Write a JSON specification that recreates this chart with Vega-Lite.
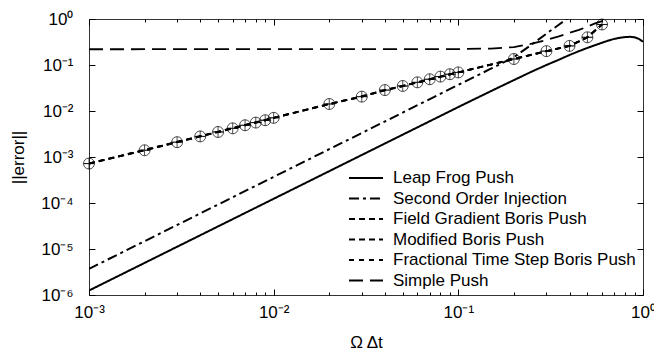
{
  "$schema": "https://vega.github.io/schema/vega-lite/v6.json",
  "width": 554,
  "height": 276,
  "autosize": {"type": "none"},
  "padding": {"left": 89, "top": 19, "right": 11, "bottom": 59},
  "background": "white",
  "config": {
    "view": {"stroke": "#333", "strokeWidth": 1},
    "font": "Liberation Sans",
    "axis": {"grid": false, "domain": false, "tickColor": "black", "labelColor": "black", "titleColor": "black", "labelFont": "Liberation Sans", "titleFont": "Liberation Sans", "labelFontSize": 17, "titleFontSize": 17, "titleFontWeight": "normal"}
  },
  "datasets": {
    "main": [
      {"x": 0.001, "y": 1.25e-6, "s": "Leap Frog Push"},
      {"x": 0.1, "y": 0.0122, "s": "Leap Frog Push"},
      {"x": 0.15, "y": 0.027, "s": "Leap Frog Push"},
      {"x": 0.2, "y": 0.047, "s": "Leap Frog Push"},
      {"x": 0.25, "y": 0.072, "s": "Leap Frog Push"},
      {"x": 0.3, "y": 0.1, "s": "Leap Frog Push"},
      {"x": 0.35, "y": 0.13, "s": "Leap Frog Push"},
      {"x": 0.4, "y": 0.165, "s": "Leap Frog Push"},
      {"x": 0.45, "y": 0.2, "s": "Leap Frog Push"},
      {"x": 0.5, "y": 0.235, "s": "Leap Frog Push"},
      {"x": 0.55, "y": 0.27, "s": "Leap Frog Push"},
      {"x": 0.6, "y": 0.305, "s": "Leap Frog Push"},
      {"x": 0.65, "y": 0.34, "s": "Leap Frog Push"},
      {"x": 0.7, "y": 0.37, "s": "Leap Frog Push"},
      {"x": 0.75, "y": 0.39, "s": "Leap Frog Push"},
      {"x": 0.8, "y": 0.405, "s": "Leap Frog Push"},
      {"x": 0.85, "y": 0.41, "s": "Leap Frog Push"},
      {"x": 0.9, "y": 0.4, "s": "Leap Frog Push"},
      {"x": 0.95, "y": 0.37, "s": "Leap Frog Push"},
      {"x": 1.0, "y": 0.32, "s": "Leap Frog Push"},
      {"x": 0.001, "y": 3.7e-6, "s": "Second Order Injection"},
      {"x": 0.1, "y": 0.037, "s": "Second Order Injection"},
      {"x": 0.15, "y": 0.083, "s": "Second Order Injection"},
      {"x": 0.2, "y": 0.148, "s": "Second Order Injection"},
      {"x": 0.25, "y": 0.28, "s": "Second Order Injection"},
      {"x": 0.3, "y": 0.48, "s": "Second Order Injection"},
      {"x": 0.35, "y": 0.75, "s": "Second Order Injection"},
      {"x": 0.4, "y": 1.11, "s": "Second Order Injection"},
      {"x": 0.001, "y": 0.22, "s": "Simple Push"},
      {"x": 0.1, "y": 0.222, "s": "Simple Push"},
      {"x": 0.15, "y": 0.228, "s": "Simple Push"},
      {"x": 0.2, "y": 0.245, "s": "Simple Push"},
      {"x": 0.25, "y": 0.29, "s": "Simple Push"},
      {"x": 0.3, "y": 0.35, "s": "Simple Push"},
      {"x": 0.35, "y": 0.42, "s": "Simple Push"},
      {"x": 0.4, "y": 0.5, "s": "Simple Push"},
      {"x": 0.45, "y": 0.58, "s": "Simple Push"},
      {"x": 0.5, "y": 0.68, "s": "Simple Push"},
      {"x": 0.55, "y": 0.8, "s": "Simple Push"},
      {"x": 0.6, "y": 0.9, "s": "Simple Push"},
      {"x": 0.66, "y": 1.02, "s": "Simple Push"},
      {"x": 0.001, "y": 0.00072, "s": "Fractional Time Step Boris Push"},
      {"x": 0.01, "y": 0.0071, "s": "Fractional Time Step Boris Push"},
      {"x": 0.1, "y": 0.069, "s": "Fractional Time Step Boris Push"},
      {"x": 0.2, "y": 0.135, "s": "Fractional Time Step Boris Push"},
      {"x": 0.3, "y": 0.2, "s": "Fractional Time Step Boris Push"},
      {"x": 0.4, "y": 0.26, "s": "Fractional Time Step Boris Push"},
      {"x": 0.5, "y": 0.4, "s": "Fractional Time Step Boris Push"},
      {"x": 0.6, "y": 0.76, "s": "Fractional Time Step Boris Push"},
      {"x": 0.001, "y": 0.00072, "s": "Field Gradient Boris Push"},
      {"x": 0.002, "y": 0.0014, "s": "Field Gradient Boris Push"},
      {"x": 0.003, "y": 0.0021, "s": "Field Gradient Boris Push"},
      {"x": 0.004, "y": 0.0028, "s": "Field Gradient Boris Push"},
      {"x": 0.005, "y": 0.0035, "s": "Field Gradient Boris Push"},
      {"x": 0.006, "y": 0.0042, "s": "Field Gradient Boris Push"},
      {"x": 0.007, "y": 0.0049, "s": "Field Gradient Boris Push"},
      {"x": 0.008, "y": 0.0056, "s": "Field Gradient Boris Push"},
      {"x": 0.009, "y": 0.0063, "s": "Field Gradient Boris Push"},
      {"x": 0.01, "y": 0.0071, "s": "Field Gradient Boris Push"},
      {"x": 0.02, "y": 0.0142, "s": "Field Gradient Boris Push"},
      {"x": 0.03, "y": 0.0205, "s": "Field Gradient Boris Push"},
      {"x": 0.04, "y": 0.0285, "s": "Field Gradient Boris Push"},
      {"x": 0.05, "y": 0.035, "s": "Field Gradient Boris Push"},
      {"x": 0.06, "y": 0.042, "s": "Field Gradient Boris Push"},
      {"x": 0.07, "y": 0.049, "s": "Field Gradient Boris Push"},
      {"x": 0.08, "y": 0.056, "s": "Field Gradient Boris Push"},
      {"x": 0.09, "y": 0.063, "s": "Field Gradient Boris Push"},
      {"x": 0.1, "y": 0.069, "s": "Field Gradient Boris Push"},
      {"x": 0.2, "y": 0.135, "s": "Field Gradient Boris Push"},
      {"x": 0.3, "y": 0.2, "s": "Field Gradient Boris Push"},
      {"x": 0.4, "y": 0.26, "s": "Field Gradient Boris Push"},
      {"x": 0.5, "y": 0.4, "s": "Field Gradient Boris Push"},
      {"x": 0.6, "y": 0.76, "s": "Field Gradient Boris Push"},
      {"x": 0.001, "y": 0.00072, "s": "Modified Boris Push"},
      {"x": 0.002, "y": 0.0014, "s": "Modified Boris Push"},
      {"x": 0.003, "y": 0.0021, "s": "Modified Boris Push"},
      {"x": 0.004, "y": 0.0028, "s": "Modified Boris Push"},
      {"x": 0.005, "y": 0.0035, "s": "Modified Boris Push"},
      {"x": 0.006, "y": 0.0042, "s": "Modified Boris Push"},
      {"x": 0.007, "y": 0.0049, "s": "Modified Boris Push"},
      {"x": 0.008, "y": 0.0056, "s": "Modified Boris Push"},
      {"x": 0.009, "y": 0.0063, "s": "Modified Boris Push"},
      {"x": 0.01, "y": 0.0071, "s": "Modified Boris Push"},
      {"x": 0.02, "y": 0.0142, "s": "Modified Boris Push"},
      {"x": 0.03, "y": 0.0205, "s": "Modified Boris Push"},
      {"x": 0.04, "y": 0.0285, "s": "Modified Boris Push"},
      {"x": 0.05, "y": 0.035, "s": "Modified Boris Push"},
      {"x": 0.06, "y": 0.042, "s": "Modified Boris Push"},
      {"x": 0.07, "y": 0.049, "s": "Modified Boris Push"},
      {"x": 0.08, "y": 0.056, "s": "Modified Boris Push"},
      {"x": 0.09, "y": 0.063, "s": "Modified Boris Push"},
      {"x": 0.1, "y": 0.069, "s": "Modified Boris Push"},
      {"x": 0.2, "y": 0.135, "s": "Modified Boris Push"},
      {"x": 0.3, "y": 0.2, "s": "Modified Boris Push"},
      {"x": 0.4, "y": 0.26, "s": "Modified Boris Push"},
      {"x": 0.5, "y": 0.4, "s": "Modified Boris Push"},
      {"x": 0.6, "y": 0.76, "s": "Modified Boris Push"}
    ]
  },
  "data": {"name": "main"},
  "resolve": {"axis": {"x": "independent", "y": "independent"}},
  "layer": [
    {
      "mark": {"type": "line", "color": "black", "clip": true},
      "encoding": {
        "x": {"field": "x", "type": "quantitative", "scale": {"type": "log", "domain": [0.001, 1]},
          "axis": {"orient": "bottom", "title": "Ω Δt",
            "values": [0.001,0.002,0.003,0.004,0.005,0.006,0.007,0.008,0.009,0.01,0.02,0.03,0.04,0.05,0.06,0.07,0.08,0.09,0.1,0.2,0.3,0.4,0.5,0.6,0.7,0.8,0.9,1],
            "labelExpr": "abs(log(datum.value)/LN10 - round(log(datum.value)/LN10)) < 0.000001 ? '10' + (round(log(datum.value)/LN10) < 0 ? '⁻' : '') + ['⁰','¹','²','³','⁴','⁵','⁶'][abs(round(log(datum.value)/LN10))] : ''",
            "tickSize": {"condition": {"test": "abs(log(datum.value)/LN10 - round(log(datum.value)/LN10)) < 0.000001", "value": -6}, "value": -3},
            "labelPadding": 15, "labelFlush": false, "labelOverlap": false,
            "titleY": 47, "titleBaseline": "middle"}},
        "y": {"field": "y", "type": "quantitative", "scale": {"type": "log", "domain": [0.000001, 1]},
          "axis": {"orient": "left", "title": "||error||",
            "values": [0.000001,0.00001,0.0001,0.001,0.01,0.1,1],
            "labelExpr": "'10' + (round(log(datum.value)/LN10) < 0 ? '⁻' : '') + ['⁰','¹','²','³','⁴','⁵','⁶'][abs(round(log(datum.value)/LN10))]",
            "tickSize": -6, "labelPadding": 22, "labelFlush": false, "labelOverlap": false,
            "titleX": -71, "titleY": 138, "titleAngle": -90, "titleAlign": "center", "titleBaseline": "middle"}},
        "strokeDash": {"field": "s", "type": "nominal",
          "scale": {"domain": ["Leap Frog Push", "Second Order Injection", "Field Gradient Boris Push", "Modified Boris Push", "Fractional Time Step Boris Push", "Simple Push"],
            "range": [[1, 0], [10, 4, 3, 4], [6, 4], [6, 4], [5, 5], [14, 7]]},
          "legend": {"title": null, "orient": "bottom-right", "offset": 2, "symbolType": "M-1.7,0L1.7,0", "symbolSize": 400, "symbolStrokeWidth": 2, "symbolStrokeColor": "black", "symbolFillColor": "transparent",
            "labelFont": "Liberation Sans", "labelFontSize": 17, "labelColor": "black", "labelOffset": 16, "rowPadding": 1.5, "padding": 4, "labelLimit": 400}},
        "strokeWidth": {"field": "s", "type": "nominal",
          "scale": {"domain": ["Leap Frog Push", "Second Order Injection", "Field Gradient Boris Push", "Modified Boris Push", "Fractional Time Step Boris Push", "Simple Push"],
            "range": [2, 1.8, 1.8, 1.8, 1.8, 2.6]}, "legend": null}
      }
    },
    {
      "transform": [{"filter": "datum.s == 'Field Gradient Boris Push'"}],
      "mark": {"type": "point", "shape": "M-1,0L1,0M0,-1L0,1", "size": 121, "filled": false, "stroke": "black", "strokeWidth": 1, "clip": false},
      "encoding": {
        "x": {"field": "x", "type": "quantitative", "axis": {"orient": "top", "title": null, "labels": false,
            "values": [0.001,0.002,0.003,0.004,0.005,0.006,0.007,0.008,0.009,0.01,0.02,0.03,0.04,0.05,0.06,0.07,0.08,0.09,0.1,0.2,0.3,0.4,0.5,0.6,0.7,0.8,0.9,1],
            "tickSize": {"condition": {"test": "abs(log(datum.value)/LN10 - round(log(datum.value)/LN10)) < 0.000001", "value": -6}, "value": -3}}},
        "y": {"field": "y", "type": "quantitative", "axis": {"orient": "right", "title": null, "labels": false,
            "values": [0.000001,0.00001,0.0001,0.001,0.01,0.1,1], "tickSize": -6}}
      }
    },
    {
      "transform": [{"filter": "datum.s == 'Modified Boris Push'"}],
      "mark": {"type": "point", "shape": "M-1,0A1,1,0,1,1,1,0A1,1,0,1,1,-1,0M-1,0L1,0", "size": 121, "filled": false, "stroke": "black", "strokeWidth": 1, "clip": false},
      "encoding": {
        "x": {"field": "x", "type": "quantitative", "axis": null},
        "y": {"field": "y", "type": "quantitative", "axis": null}
      }
    }
  ]
}
